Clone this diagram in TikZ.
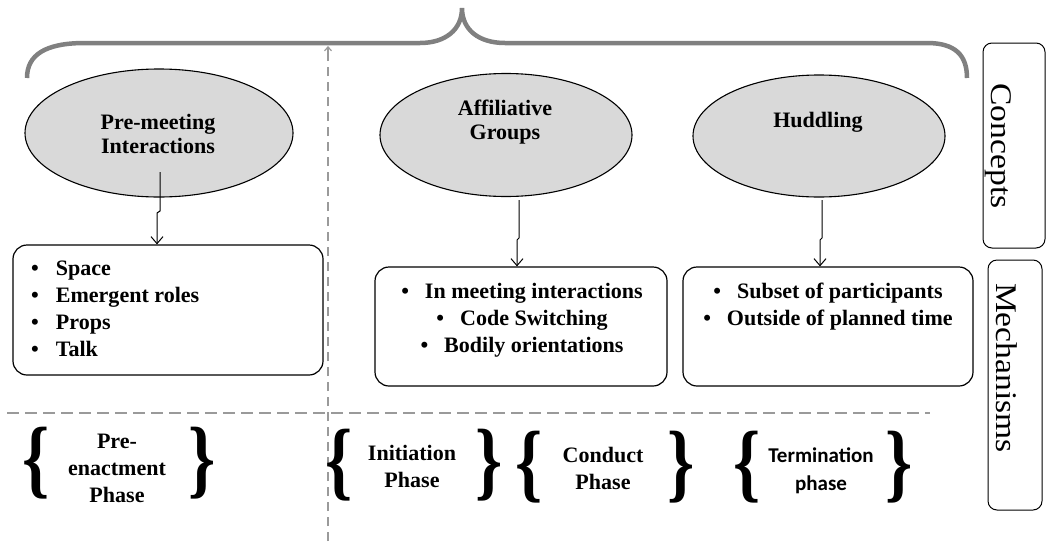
\documentclass[tikz,border=0pt]{standalone}
\usepackage{fontspec}
\setmainfont{Liberation Serif}
\newfontfamily\sansface{Carlito}
\usetikzlibrary{arrows.meta,shapes.geometric}

\definecolor{conceptfill}{HTML}{D9D9D9}
\definecolor{bracegray}{HTML}{808080}
\definecolor{guidegray}{HTML}{9A9A9A}

% text blocks are set as boxed stacks of lines
\newcommand{\cstack}[1]{\scalebox{1.001}{\begin{tabular}{@{}c@{}}#1\end{tabular}}}
\newcommand{\lstack}[1]{\scalebox{1.001}{\begin{tabular}{@{}l@{\hspace{17pt}}l@{}}#1\end{tabular}}}
\newcommand{\bitem}[1]{\textbullet\hspace{16pt}#1}

\newcommand{\lbr}{\scalebox{1.15}[1.45]{\fontsize{60}{60}\selectfont\bfseries\{}}
\newcommand{\rbr}{\scalebox{1.15}[1.45]{\fontsize{60}{60}\selectfont\bfseries\}}}

\begin{document}
\begin{tikzpicture}[x=1pt,y=-1pt,
  concept/.style={ellipse, draw=black, line width=1.1pt, fill=conceptfill, inner sep=0pt},
  ctext/.style={font=\fontsize{22}{24}\selectfont\bfseries, inner sep=0pt},
  mechbox/.style={draw=black, line width=1.2pt, rounded corners=14pt, fill=white, inner sep=0pt},
  mtext/.style={font=\fontsize{22}{27}\selectfont\bfseries, inner sep=0pt},
  sidebox/.style={draw=black, line width=1pt, rounded corners=9pt, inner sep=0pt},
  sidetext/.style={inner sep=0pt, rotate=-90},
  ptext/.style={font=\fontsize{22}{27}\selectfont\bfseries, inner sep=0pt},
  bigbrace/.style={inner sep=0pt},
  arr/.style={draw=black, line width=1pt, -{Straight Barb[length=7pt,width=12pt,line width=1pt]}},
  hguide/.style={draw=guidegray, line width=2.6pt, dash pattern=on 12pt off 6pt},
  vguide/.style={draw=guidegray, line width=2pt, dash pattern=on 9pt off 6pt},
]
\useasboundingbox (0,0) rectangle (1046,541);

% big grey brace over the concepts
\draw[bracegray, line width=4.5pt]
  (27,78) .. controls (27,55) and (45,43) .. (85,43) -- (420,43)
  .. controls (445,43) and (462,30) .. (462,8)
  .. controls (462,30) and (479,43) .. (505,43) -- (927,43)
  .. controls (955,43) and (967,55) .. (967,78);

% dashed guides
\coordinate (vtop) at (328,46);
\coordinate (vbot) at (328,541);
\draw[vguide] (vbot) -- (vtop);
\draw[guidegray, line width=1.2pt, -{Straight Barb[length=4pt,width=7pt]}] ([yshift=-6pt]vtop) -- (vtop);
\coordinate (hl) at (7,413);
\coordinate (hr) at (930,413);
\draw[hguide] (hl) -- (hr);

% concepts
\node[concept, minimum width=268pt, minimum height=128pt] (e1) at (159,133) {};
\node[concept, minimum width=252pt, minimum height=123pt] (e2) at (506,135) {};
\node[concept, minimum width=252pt, minimum height=122pt] (e3) at (819,136) {};
\node[ctext] (e1t) at (158,136.5) {\cstack{Pre-meeting\\Interactions}};
\node[ctext] (e2t) at (505,122.5) {\cstack{Affiliative\\Groups}};
\node[ctext] (e3t) at (818,123) {\cstack{Huddling}};

% mechanisms
\node[mechbox, minimum width=310pt, minimum height=130pt] (b1) at (168,310) {};
\node[mechbox, minimum width=292pt, minimum height=119pt] (b2) at (521,326.5) {};
\node[mechbox, minimum width=290pt, minimum height=119pt] (b3) at (828,326.5) {};

\node[mtext, anchor=west] (b1t) at (31,311) {\lstack{%
  \textbullet & Space\\
  \textbullet & Emergent roles\\
  \textbullet & Props\\
  \textbullet & Talk}};
\node[mtext] (b2t) at (522,320) {\cstack{%
  \bitem{In meeting interactions}\\
  \bitem{Code Switching}\\
  \bitem{Bodily orientations}}};
\node[mtext] (b3t) at (828,306.5) {\cstack{%
  \bitem{Subset of participants}\\
  \bitem{Outside of planned time}}};

% concept -> mechanism arrows
\draw[arr] ([shift={(1,39)}]e1.center) -- ++(0,39) -- ++(-3,2) -- ([xshift=-11pt]b1.north);
\draw[arr] ([shift={(13,65)}]e2.center) -- ++(0,38) -- ++(-2,2) -- ([xshift=-4pt]b2.north);
\draw[arr] ([shift={(3,64)}]e3.center) -- ++(0,38) -- ++(-2,2) -- ([xshift=-8pt]b3.north);

% side labels
\node[sidebox, minimum width=62pt, minimum height=205pt] (cbox) at (1014,145.5) {};
\node[sidetext] (ctxt) at (998,146) {\scalebox{1.12}[1]{\fontsize{30}{30}\selectfont Concepts}};
\node[sidebox, minimum width=54pt, minimum height=250pt] (mbox) at (1015,385) {};
\node[sidetext] (mtxt) at (1007,368) {\scalebox{1.12}[1]{\fontsize{30}{30}\selectfont Mechanisms}};

% phases
\node[bigbrace] (p1l) at (36,463) {\lbr};
\node[bigbrace] (p1r) at (202,463) {\rbr};
\node[ptext] (p1t) at (117,470) {\cstack{Pre-\\enactment\\Phase}};

\node[bigbrace] (p2l) at (339,465) {\lbr};
\node[bigbrace] (p2r) at (489,465) {\rbr};
\node[ptext] (p2t) at (412,468.5) {\cstack{Initiation\\Phase}};

\node[bigbrace] (p3l) at (529,467) {\lbr};
\node[bigbrace] (p3r) at (681,467) {\rbr};
\node[ptext] (p3t) at (603,471) {\cstack{Conduct\\Phase}};

\node[bigbrace] (p4l) at (747,467) {\lbr};
\node[bigbrace] (p4r) at (899,467) {\rbr};
\node[ptext, font=\fontsize{21}{28}\selectfont\sansface\bfseries] (p4t) at (821,471) {\cstack{Termination\\phase}};
\end{tikzpicture}
\end{document}
